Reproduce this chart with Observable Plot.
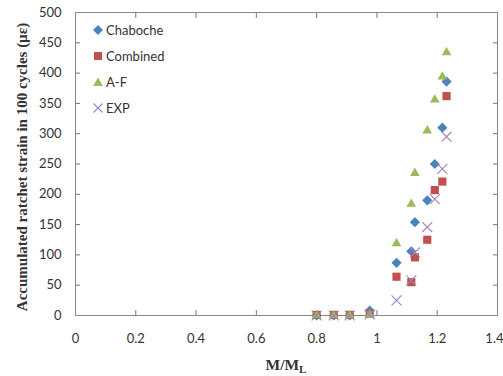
<!DOCTYPE html>
<html><head><meta charset="utf-8">
<script src="https://cdn.jsdelivr.net/npm/d3@7"></script>
<script src="https://cdn.jsdelivr.net/npm/@observablehq/plot@0.6"></script>
<style>
body{margin:0;background:#fff;}
#wrap{position:relative;width:503px;height:376px;font-family:Lato,"Open Sans",sans-serif;}
.leg{position:absolute;left:92px;font-size:13px;color:#333;display:flex;align-items:center;height:16px;}
.leg svg{margin-right:2px;overflow:visible}
#xlab{position:absolute;left:0;width:572px;top:356px;text-align:center;font-family:"Liberation Serif",serif;font-weight:bold;font-size:15.5px;color:#333;}
#xlab sub{font-size:11px;vertical-align:-3px;line-height:0}
</style></head><body><div id="wrap"></div>
<script>
const ratio = [0.8, 0.857, 0.91, 0.976, 1.065, 1.114, 1.126, 1.167, 1.192, 1.217, 1.231];
const chaboche = [0, 0, 0, 8, 87, 106, 154, 190, 250, 310, 386];
const combined = [1, 1, 1, 3, 64, 55, 96, 125, 207, 221, 362];
const af = [0, 0, 0, 1, 119, 184, 235, 305, 356, 394, 434];
const exp = [0, 0, 0, 2, 25, 58, 104, 146, 192, 242, 295];
const seriesNames = ["Chaboche", "Combined", "A-F", "EXP"];
const xTicks = [0, 0.2, 0.4, 0.6, 0.8, 1, 1.2, 1.4];
const yTicks = [0, 50, 100, 150, 200, 250, 300, 350, 400, 450, 500];

const colors = {Chaboche: "#4F81BD", Combined: "#C0504D", "A-F": "#9BBB59", EXP: "#9886BC"};
const toRows = vals => ratio.map((x, i) => ({x, y: vals[i]}));

const fmt = d => String(+d.toFixed(1));
const lastTick = xTicks[xTicks.length - 1];
const chart = Plot.plot({
  width: 503, height: 376,
  marginLeft: 75, marginRight: 6, marginTop: 12, marginBottom: 61,
  style: {fontFamily: "Lato, 'Open Sans', sans-serif", fontSize: "13px", color: "#333", background: "#fff"},
  x: {domain: [0, 1.4]},
  y: {domain: [0, 500]},
  marks: [
    Plot.axisX({anchor: "bottom", ticks: xTicks.slice(0, -1), tickSize: 0, tickPadding: 18, tickFormat: fmt, label: null, fill: "#333"}),
    Plot.axisX({anchor: "bottom", ticks: [lastTick], tickSize: 0, tickPadding: 18, tickFormat: fmt, label: null, fill: "#333", textAnchor: "end", dx: 6}),
    Plot.axisX({anchor: "bottom", ticks: xTicks, tickSize: -5, tickFormat: () => "", label: null, stroke: "#777"}),
    Plot.axisX({anchor: "top", ticks: xTicks, tickSize: -5, tickFormat: () => "", label: null, stroke: "#777"}),
    Plot.axisY({anchor: "left", ticks: yTicks, tickSize: 0, tickPadding: 14, label: null, fill: "#333"}),
    Plot.axisY({anchor: "left", ticks: yTicks, tickSize: -5, tickFormat: () => "", label: null, stroke: "#777"}),
    Plot.axisY({anchor: "right", ticks: yTicks, tickSize: -5, tickFormat: () => "", label: null, stroke: "#777"}),
    Plot.frame({stroke: "#888"}),
    Plot.dot(toRows(chaboche), {x: "x", y: "y", symbol: "diamond2", r: 4.6, fill: colors.Chaboche}),
    Plot.dot(toRows(combined), {x: "x", y: "y", symbol: "square", r: 4.6, fill: colors.Combined}),
    Plot.dot(toRows(af), {x: "x", y: "y", symbol: "triangle", r: 3.6, fill: colors["A-F"]}),
    Plot.dot(toRows(exp), {x: "x", y: "y", symbol: "times", r: 4.6, stroke: colors.EXP, strokeWidth: 1.1})
  ]
});
const wrap = document.getElementById("wrap");
wrap.appendChild(chart);

d3.select(chart).append("text")
  .attr("transform", "translate(27,167) rotate(-90)")
  .attr("text-anchor", "middle")
  .attr("font-family", "'Liberation Serif', serif")
  .attr("font-weight", "bold")
  .attr("font-size", "15px")
  .attr("fill", "#333")
  .text("Accumulated ratchet strain in 100 cycles (µε)");

const xl = document.createElement("div");
xl.id = "xlab";
xl.innerHTML = "M/M<sub>L</sub>";
wrap.appendChild(xl);

const symPaths = {
  Chaboche: '<path d="M0,-5L5,0L0,5L-5,0Z" fill="#4F81BD"/>',
  Combined: '<rect x="-4" y="-4" width="8" height="8" fill="#C0504D"/>',
  "A-F": '<path d="M0,-4.5L4.8,4L-4.8,4Z" fill="#9BBB59"/>',
  EXP: '<path d="M-4.5,-4.5L4.5,4.5M-4.5,4.5L4.5,-4.5" stroke="#9886BC" stroke-width="1.1"/>'
};
seriesNames.forEach((name, i) => {
  const d = document.createElement("div");
  d.className = "leg";
  d.style.top = (22 + i * 26) + "px";
  d.innerHTML = `<svg width="12" height="12" viewBox="-6 -6 12 12">${symPaths[name]}</svg>${name}`;
  wrap.appendChild(d);
});
</script></body></html>
